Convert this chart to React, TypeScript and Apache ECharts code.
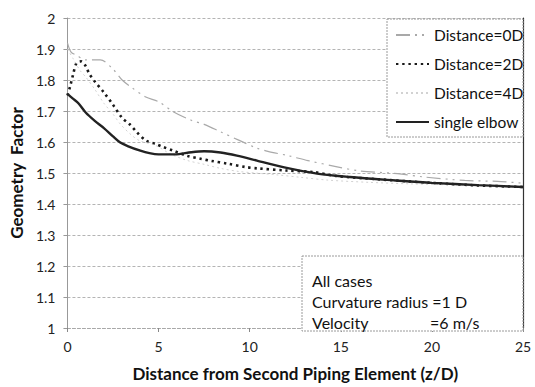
import React, { useEffect, useRef } from "react";
import * as echarts from "echarts";

const seriesNames = ["Distance=0D", "Distance=2D", "Distance=4D", "single elbow"];

const z0D = [0, 0.2, 0.5, 1.0, 1.8, 2.5, 3.0, 3.5, 4.3, 5.0, 5.8, 6.8, 7.5, 8.4, 9.4, 10.4, 11.0, 12.1, 13.2, 14.8, 16.0, 18.1, 19.6, 21.8, 23.6, 25];
const v0D = [1.92, 1.89, 1.88, 1.865, 1.865, 1.835, 1.8, 1.777, 1.745, 1.73, 1.698, 1.67, 1.657, 1.633, 1.606, 1.58, 1.57, 1.556, 1.54, 1.52, 1.507, 1.498, 1.487, 1.476, 1.473, 1.467];

const z2D = [0, 0.15, 0.3, 0.5, 0.75, 1.0, 1.2, 1.5, 2.0, 2.5, 3.0, 3.4, 3.8, 4.3, 4.9, 5.2, 5.8, 6.6, 7.3, 7.9, 8.8, 9.8, 10.4, 12.0, 13.5, 14.8, 17.0, 20.0, 22.5, 25];
const v2D = [1.75, 1.78, 1.815, 1.855, 1.86, 1.845, 1.82, 1.795, 1.76, 1.72, 1.678, 1.658, 1.632, 1.605, 1.592, 1.585, 1.572, 1.555, 1.546, 1.539, 1.53, 1.519, 1.515, 1.508, 1.503, 1.49, 1.48, 1.468, 1.46, 1.455];

const z4D = [0, 0.3, 0.7, 1.0, 1.5, 2.0, 2.5, 2.9, 3.5, 4.0, 4.8, 5.7, 6.6, 7.5, 8.4, 9.4, 10.3, 11.5, 12.8, 14.3, 16.5, 18.8, 22.5, 25];
const v4D = [1.9, 1.87, 1.83, 1.81, 1.77, 1.725, 1.69, 1.658, 1.623, 1.603, 1.59, 1.56, 1.54, 1.528, 1.515, 1.505, 1.5, 1.494, 1.486, 1.477, 1.47, 1.465, 1.46, 1.457];

const zSingle = [0, 0.3, 0.6, 1.0, 1.5, 2.0, 2.5, 2.9, 3.3, 4.0, 4.5, 5.0, 5.9, 6.8, 7.5, 8.4, 9.3, 10.4, 11.9, 13.7, 15.5, 18.0, 20.0, 22.5, 25];
const vSingle = [1.755, 1.74, 1.725, 1.695, 1.668, 1.645, 1.618, 1.598, 1.587, 1.572, 1.564, 1.56, 1.56, 1.567, 1.57, 1.566, 1.556, 1.54, 1.518, 1.498, 1.487, 1.476, 1.468, 1.461, 1.455];

const xTicks = [0, 5, 10, 15, 20, 25];
const annotationLines = ["All cases", "Curvature radius =1 D", "Velocity"];
const velocityValue = "=6 m/s";

const FONT = "Lato, 'Open Sans', sans-serif";

const pairs = (zs: number[], vs: number[]) => zs.map((z, i) => [z, vs[i]]);

export default function App() {
  const ref = useRef<HTMLDivElement>(null);
  useEffect(() => {
    if (!ref.current) return;
    const chart = echarts.init(ref.current, undefined, { renderer: "svg" });
    const common = { type: "line", symbol: "none", showSymbol: false, smooth: 0.3 };
    chart.setOption({
      animation: false,
      backgroundColor: "#ffffff",
      textStyle: { fontFamily: FONT },
      grid: { left: 66, right: 12, top: 18, bottom: 54 },
      xAxis: {
        type: "value",
        min: xTicks[0],
        max: xTicks[xTicks.length - 1],
        interval: 5,
        axisLine: { show: true, lineStyle: { color: "#a8a8a8", type: [3, 2], width: 1 } },
        axisTick: { show: true, length: 4, lineStyle: { color: "#888" } },
        splitLine: { show: false },
        axisLabel: { fontSize: 14, color: "#222", margin: 11, fontFamily: FONT },
        name: "Distance from Second Piping Element (z/D)",
        nameLocation: "middle",
        nameGap: 37,
        nameTextStyle: { fontSize: 17, fontWeight: "bold", color: "#111", fontFamily: FONT },
      },
      yAxis: [
        {
          type: "value",
          min: 1,
          max: 2,
          interval: 0.1,
          axisLine: { show: true, lineStyle: { color: "#999", width: 1 } },
          axisTick: { show: true, length: 4, lineStyle: { color: "#999" } },
          splitLine: { show: true, lineStyle: { color: "#b4b4b4", type: [3, 2], width: 1 } },
          axisLabel: {
            fontSize: 14,
            color: "#222",
            margin: 12,
            fontFamily: FONT,
            formatter: (v: number) => String(Math.round(v * 10) / 10),
          },
          name: "Geometry  Factor",
          nameLocation: "middle",
          nameRotate: 90,
          nameGap: 42,
          nameTextStyle: { fontSize: 17, fontWeight: "bold", color: "#111", fontFamily: FONT },
        },
        {
          type: "value",
          min: 1,
          max: 2,
          interval: 0.1,
          position: "right",
          axisLine: { show: true, lineStyle: { color: "#333", width: 1.2 } },
          axisTick: { show: false },
          axisLabel: { show: false },
          splitLine: { show: false },
        },
      ],
      legend: {
        show: true,
        orient: "vertical",
        left: 395,
        top: 27,
        padding: 0,
        itemWidth: 33,
        itemHeight: 14,
        itemGap: 13,
        z: 10,
        itemStyle: { opacity: 0 },
        data: seriesNames,
        textStyle: { fontSize: 15.5, color: "#111", fontFamily: FONT },
      },
      graphic: [
        {
          type: "rect",
          z: 3,
          shape: { x: 387, y: 19, width: 136, height: 118 },
          style: { fill: "#fff", stroke: "#9a9a9a", lineWidth: 1, lineDash: [2, 1] },
        },
        {
          type: "rect",
          z: 3,
          shape: { x: 302, y: 256, width: 221, height: 75 },
          style: { fill: "#fff", stroke: "#9a9a9a", lineWidth: 1, lineDash: [2, 1] },
        },
        ...annotationLines.map((t, i) => ({
          type: "text",
          z: 4,
          x: 312,
          y: 280 + i * 21,
          style: { text: t, fontSize: 16, fill: "#111", fontFamily: FONT, verticalAlign: "middle" },
        })),
        {
          type: "text",
          z: 4,
          x: 430,
          y: 322,
          style: { text: velocityValue, fontSize: 16, fill: "#111", fontFamily: FONT, verticalAlign: "middle" },
        },
      ],
      series: [
        {
          ...common,
          name: seriesNames[0],
          data: pairs(z0D, v0D),
          lineStyle: { color: "#a9a9a9", width: 1.2, type: [14, 5, 2, 5, 2, 5] },
          itemStyle: { color: "#a9a9a9" },
        },
        {
          ...common,
          name: seriesNames[1],
          data: pairs(z2D, v2D),
          lineStyle: { color: "#1a1a1a", width: 2.6, type: [2.4, 3.8] },
          itemStyle: { color: "#1a1a1a" },
        },
        {
          ...common,
          name: seriesNames[2],
          data: pairs(z4D, v4D),
          lineStyle: { color: "#d2d2d2", width: 1, type: [2, 3] },
          itemStyle: { color: "#d2d2d2" },
        },
        {
          ...common,
          name: seriesNames[3],
          data: pairs(zSingle, vSingle),
          lineStyle: { color: "#222", width: 2.4, type: "solid" },
          itemStyle: { color: "#222" },
        },
      ],
    });
    return () => chart.dispose();
  }, []);
  return (
    <div
      ref={ref}
      style={{ position: "fixed", left: 0, top: 0, width: 535, height: 387, background: "#fff" }}
    />
  );
}
